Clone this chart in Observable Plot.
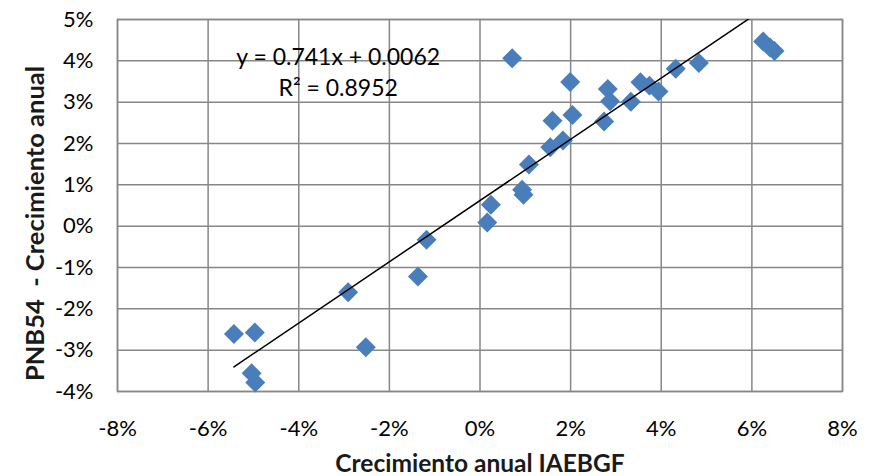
<!DOCTYPE html>
<html>
<head>
<meta charset="utf-8">
<script src="https://cdn.jsdelivr.net/npm/d3@7"></script>
<script src="https://cdn.jsdelivr.net/npm/@observablehq/plot@0.6"></script>
<style>
  html, body { margin: 0; padding: 0; background: #fff; }
  #chart { width: 875px; height: 476px; }
</style>
</head>
<body>
<div id="chart"></div>
<script>
// Data (annual growth, %)
const xIAEBGF = [0.71, 1.99, 2.82, 2.87, 1.60, 2.04, 2.74, 3.33, 3.54, 3.74, 3.94, 4.32, 4.83, 6.25, 6.40, 6.50,
                 1.55, 1.83, 1.08, 0.93, 0.96, 0.24, 0.16, -1.18, -1.37, -2.91, -2.52, -5.43, -4.97, -5.04, -4.96];
const yPNB54  = [4.06, 3.49, 3.32, 3.02, 2.55, 2.69, 2.53, 3.01, 3.48, 3.40, 3.26, 3.81, 3.95, 4.47, 4.32, 4.24,
                 1.91, 2.07, 1.49, 0.88, 0.76, 0.52, 0.09, -0.33, -1.22, -1.60, -2.93, -2.61, -2.57, -3.56, -3.78];
const xTicks = [-8, -6, -4, -2, 0, 2, 4, 6, 8];
const yTicks = [-4, -3, -2, -1, 0, 1, 2, 3, 4, 5];
const slope = 0.741, intercept = 0.62; // in % units (0.0062 = 0.62%)
const eqLines = ["y = 0.741x + 0.0062", "R² = 0.8952"];
const eqPos = {x: -3.13, y: [4.08, 3.33]};
const xTitle = "Crecimiento anual IAEBGF";
const yTitle = "PNB54\u00a0\u00a0- Crecimiento anual";

const points = xIAEBGF.map((x, i) => ({x, y: yPNB54[i]}));
const xmin = d3.min(xIAEBGF), xmax = d3.max(xIAEBGF);
const trend = [xmin, xmax].map(x => ({x, y: slope * x + intercept}));
const fmt = d => `${d}%`;
const grid = "#878787";
const font = "Lato, 'Open Sans', sans-serif";

const chart = Plot.plot({
  width: 875,
  height: 476,
  marginLeft: 117,
  marginRight: 33,
  marginTop: 19,
  marginBottom: 85,
  style: {fontFamily: font, fontSize: "22px", color: "#000", background: "#fff"},
  x: {domain: [-8, 8], label: null},
  y: {domain: [-4, 5], label: null},
  marks: [
    Plot.gridX(xTicks, {stroke: grid, strokeOpacity: 1, strokeWidth: 1.5}),
    Plot.gridY(yTicks, {stroke: grid, strokeOpacity: 1, strokeWidth: 1.5}),
    Plot.frame({stroke: grid, strokeWidth: 1.5}),
    Plot.axisX({ticks: xTicks, tickFormat: fmt, tickSize: 0, tickPadding: 29, fontSize: 22, label: null, fill: "#000"}),
    Plot.axisY({ticks: yTicks, tickFormat: fmt, tickSize: 0, tickPadding: 24, fontSize: 22, label: null, fill: "#000"}),
    Plot.dot(points, {x: "x", y: "y", symbol: "diamond2", r: 9, fill: "#4A7EBB", stroke: "none"}),
    Plot.line(trend, {x: "x", y: "y", stroke: "#000", strokeWidth: 1.5, clip: true}),
    Plot.text(eqLines, {x: () => eqPos.x, y: (d, i) => eqPos.y[i], text: d => d, fontSize: 23, fill: "#000"}),
    Plot.text([xTitle], {frameAnchor: "bottom", lineAnchor: "middle", textAnchor: "middle", dy: 73, fontWeight: "bold", fontSize: 24.5, fill: "#1a1a1a"}),
    Plot.text([yTitle], {frameAnchor: "left", lineAnchor: "middle", textAnchor: "middle", dx: -82, dy: 18, rotate: -90, fontWeight: "bold", fontSize: 25.5, fill: "#1a1a1a"})
  ]
});
document.getElementById("chart").appendChild(chart);
</script>
</body>
</html>
